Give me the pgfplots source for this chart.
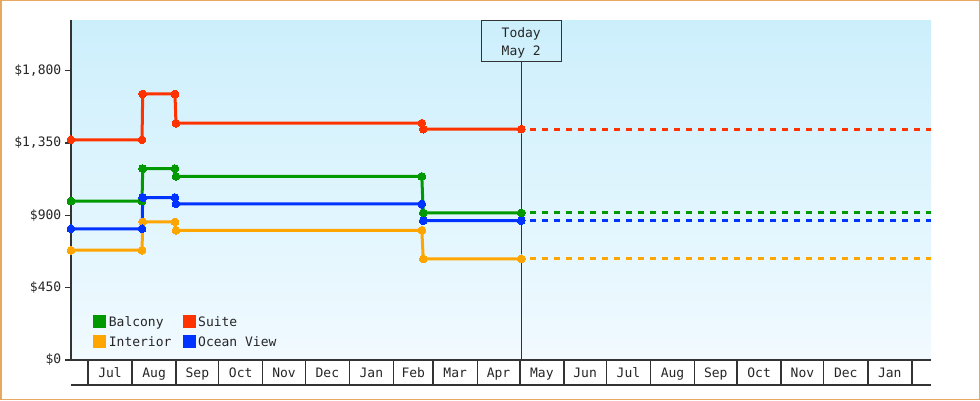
\documentclass[border=0pt]{standalone}
\usepackage{pgfplots}
\pgfplotsset{compat=1.18}
\usepackage{pgfplotstable}
\usepackage{fontspec}
\setmainfont{DejaVu Sans Mono}

\definecolor{balcony}{RGB}{0,153,0}
\definecolor{suite}{RGB}{255,51,0}
\definecolor{interior}{RGB}{255,165,0}
\definecolor{oceanview}{RGB}{0,51,255}
\definecolor{axisgray}{RGB}{51,51,51}
\definecolor{bgtop}{RGB}{204,239,252}
\definecolor{bgbottom}{RGB}{241,250,255}
\definecolor{frameorange}{RGB}{232,168,96}

% day = days since 2022-07-01, price in dollars
\pgfplotstableread{
day price
-12 989
38 989
38.5 1190
61.2 1190
61.9 1142
235 1142
236 915
305 915
}\balcony
\pgfplotstableread{
day price
-12 1370
38 1370
38.5 1655
61.2 1655
61.9 1473
235 1473
236 1436
305 1436
}\suite
\pgfplotstableread{
day price
-12 683
38 683
38.5 859
61.2 859
61.9 807
235 807
236 629
305 629
}\interior
\pgfplotstableread{
day price
-12 816
38 816
38.5 1010
61.2 1010
61.9 971
235 971
236 867
305 867
}\oceanview

\pgfplotsset{
    price/.style={line width=3pt, mark=*, mark size=3.9pt,
        mark options={solid, line width=0pt}},
    proj/.style={line width=3pt, dash pattern=on 6pt off 6pt, dash phase=3pt,
        forget plot},
}

\begin{document}
\begin{tikzpicture}[font=\fontsize{13}{15}\selectfont]
    \useasboundingbox (0,0) rectangle (980pt,400pt);
    \fill[white] (0,0) rectangle (980pt,400pt);
    \draw[frameorange, line width=1.5pt] (0.75pt,0.75pt) rectangle (979.25pt,399.25pt);
    \begin{axis}[
        at={(71pt,40pt)}, anchor=south west,
        scale only axis, width=860pt, height=340pt,
        xmin=-12, xmax=593.5, ymin=0, ymax=2115,
        clip=false,
        axis x line*=bottom, axis y line*=left,
        x axis line style={axisgray, line width=1.4pt},
        y axis line style={axisgray, line width=2.2pt},
        axis background/.style={top color=bgtop, bottom color=bgbottom},
        tick align=outside, major tick length=6pt,
        ytick={0,450,900,1350,1800},
        yticklabels={{\$0},{\$450},{\$900},{\$1,350},{\$1,800}},
        ytick style={axisgray, line width=1.4pt},
        yticklabel style={text=black!85, inner sep=1.5pt, xshift=-2pt},
        xtick={15.5,46.5,77,107.5,138,168.5,199.5,229,258.5,289,319.5,350,
            380.5,411.5,442,472.5,503,533.5,564.5},
        xticklabels={Jul,Aug,Sep,Oct,Nov,Dec,Jan,Feb,Mar,Apr,May,Jun,
            Jul,Aug,Sep,Oct,Nov,Dec,Jan},
        xtick style={draw=none},
        xticklabel style={text=black!85, anchor=center, text height=9.5pt,
            text depth=0pt, yshift=-7pt},
        legend columns=2,
        legend cell align=left,
        legend style={at={(0.0259,0.1316)}, anchor=north west, draw=none,
            fill=none, inner sep=0pt, column sep=0pt, row sep=7pt,
            nodes={text=black!85, inner xsep=2.4pt, inner ysep=0pt,
                text height=9.7pt, text depth=0.3pt}},
        /tikz/every even column/.append style={column sep=8.9pt},
        legend image code/.code={
            \fill (0pt,-5pt) rectangle (10pt,5pt);},
    ]
        % today marker
        \draw[axisgray, line width=0.9pt] (axis cs:305,0) -- (axis cs:305,1862);
        \node[draw=axisgray, line width=0.9pt, minimum width=80pt,
            minimum height=41pt, anchor=north, inner sep=0pt]
            (today) at (axis cs:305,2115) {};
        \node[align=center, inner sep=0pt, text=black!85, yshift=-2pt,
            font=\fontsize{13}{18}\selectfont] at (today.center) {Today\\May 2};

        \addplot[balcony, price] table[x=day, y=price] {\balcony};
        \addlegendentry{Balcony}
        \addplot[suite, price] table[x=day, y=price] {\suite};
        \addlegendentry{Suite}
        \addplot[interior, price] table[x=day, y=price] {\interior};
        \addlegendentry{Interior}
        \addplot[oceanview, price] table[x=day, y=price] {\oceanview};
        \addlegendentry{Ocean View}

        \addplot[balcony, proj] coordinates {(305,915) (593.5,915)};
        \addplot[suite, proj] coordinates {(305,1436) (593.5,1436)};
        \addplot[interior, proj] coordinates {(305,629) (593.5,629)};
        \addplot[oceanview, proj] coordinates {(305,867) (593.5,867)};

        % month boxes below the axis
        \pgfplotsinvokeforeach{0,31,62,92,123,153,184,215,243,274,304,335,
            365,396,427,457,488,518,549,580}{
            \draw[axisgray, line width=1.4pt] (axis cs:#1,0) -- ++(0pt,-25pt);
        }
        \draw[axisgray, line width=1.4pt]
            ([yshift=-25pt]rel axis cs:0,0) -- ([yshift=-25pt]rel axis cs:1,0);
    \end{axis}
\end{tikzpicture}
\end{document}
